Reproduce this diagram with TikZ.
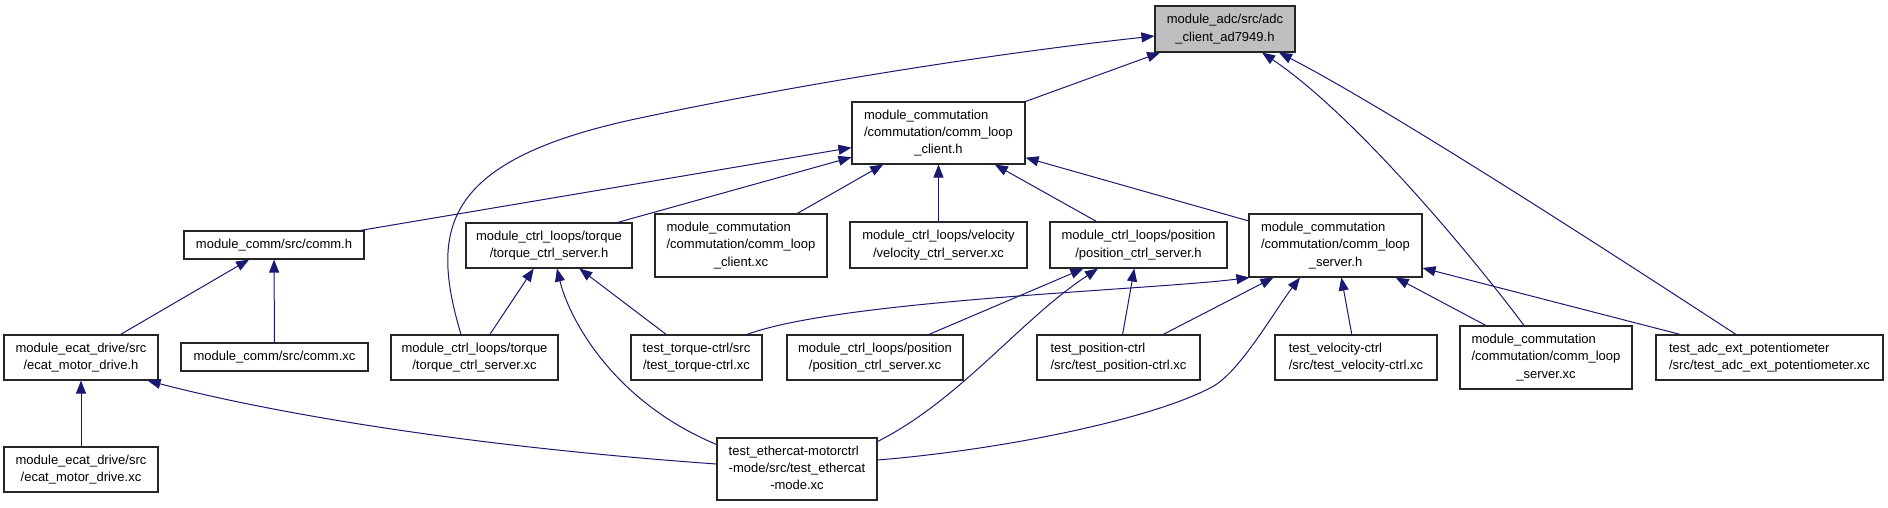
\documentclass[tikz,border=0pt]{standalone}
\usepackage{fontspec}
\setmainfont{Liberation Sans}
\usetikzlibrary{arrows.meta,calc}
\definecolor{edgeblue}{RGB}{25,25,112}
\newcommand{\lbl}[2]{\begin{tabular}{@{}l@{}}#1\\\multicolumn{1}{@{}c@{}}{#2}\end{tabular}}
\begin{document}
\begin{tikzpicture}[x=1pt,y=-1pt,box/.style={draw=black!85,line width=1.1pt,fill=white,inner sep=0pt,font=\fontsize{13}{17.3}\selectfont},arr/.style={-{Triangle[length=13pt,width=10pt]},draw=edgeblue,line width=1pt}]
\useasboundingbox (0,0) rectangle (1888,507);
\node[box,fill=black!25,minimum width=140pt,minimum height=46pt] (root) at (1225,29) {\lbl{module\_adc/src/adc}{\_client\_ad7949.h}};
\node[box,minimum width=173pt,minimum height=62pt] (clh) at (938.5,133) {\lbl{module\_commutation\\/commutation/comm\_loop}{\_client.h}};
\node[box,minimum width=180pt,minimum height=28pt] (commh) at (274,245) {module\_comm/src/comm.h};
\node[box,minimum width=166pt,minimum height=45pt] (torqueh) at (549,245.5) {\lbl{module\_ctrl\_loops/torque}{/torque\_ctrl\_server.h}};
\node[box,minimum width=172pt,minimum height=63pt] (clxc) at (741,245.5) {\lbl{module\_commutation\\/commutation/comm\_loop}{\_client.xc}};
\node[box,minimum width=177pt,minimum height=46pt] (velxc) at (938.5,245) {\lbl{module\_ctrl\_loops/velocity}{/velocity\_ctrl\_server.xc}};
\node[box,minimum width=177pt,minimum height=46pt] (posh) at (1138.5,245) {\lbl{module\_ctrl\_loops/position}{/position\_ctrl\_server.h}};
\node[box,minimum width=173pt,minimum height=63pt] (svh) at (1335.5,245.5) {\lbl{module\_commutation\\/commutation/comm\_loop}{\_server.h}};
\node[box,minimum width=154pt,minimum height=45pt] (ecath) at (81,357.5) {\lbl{module\_ecat\_drive/src}{/ecat\_motor\_drive.h}};
\node[box,minimum width=187pt,minimum height=28pt] (commxc) at (274.5,357) {module\_comm/src/comm.xc};
\node[box,minimum width=167pt,minimum height=45pt] (torquexc) at (474.5,357.5) {\lbl{module\_ctrl\_loops/torque}{/torque\_ctrl\_server.xc}};
\node[box,minimum width=131pt,minimum height=45pt] (ttorquexc) at (696.5,357.5) {\lbl{test\_torque-ctrl/src}{/test\_torque-ctrl.xc}};
\node[box,minimum width=176pt,minimum height=45pt] (posxc) at (875,357.5) {\lbl{module\_ctrl\_loops/position}{/position\_ctrl\_server.xc}};
\node[box,minimum width=163pt,minimum height=45pt] (tposxc) at (1118.5,357.5) {\lbl{test\_position-ctrl}{/src/test\_position-ctrl.xc}};
\node[box,minimum width=162pt,minimum height=45pt] (tvelxc) at (1356,357.5) {\lbl{test\_velocity-ctrl}{/src/test\_velocity-ctrl.xc}};
\node[box,minimum width=172pt,minimum height=63pt] (svxc) at (1546,357.5) {\lbl{module\_commutation\\/commutation/comm\_loop}{\_server.xc}};
\node[box,minimum width=227pt,minimum height=45pt] (potxc) at (1769.5,357.5) {\lbl{test\_adc\_ext\_potentiometer}{/src/test\_adc\_ext\_potentiometer.xc}};
\node[box,minimum width=154pt,minimum height=45pt] (ecatxc) at (81,469.5) {\lbl{module\_ecat\_drive/src}{/ecat\_motor\_drive.xc}};
\node[box,minimum width=160pt,minimum height=62pt] (ethxc) at (797,469) {\lbl{test\_ethercat-motorctrl\\-mode/src/test\_ethercat}{-mode.xc}};
\draw[arr](clh)--(root);
\draw[arr]($(torquexc.north)+(-13.5,0)$) .. controls (430,230) and (440,160) .. (640,118) .. controls (800,84) and (990,54) .. ($(root.west)+(0,7)$);
\draw[arr]($(svxc.north)+(-22,0)$) .. controls (1472,256) and (1355,115) .. ($(root.south)+(37,0)$);
\draw[arr]($(potxc.north)+(-33.5,0)$) .. controls (1660,285) and (1400,115) .. ($(root.south)+(54,0)$);
\draw[arr](commh)--(clh);\draw[arr]($(torqueh.north east)+(-15,0)$)--(clh);\draw[arr](clxc)--(clh);\draw[arr](velxc)--(clh);\draw[arr](posh)--(clh);\draw[arr](svh)--(clh);
\draw[arr](ecath)--(commh);\draw[arr](commxc)--(commh);\draw[arr](ecatxc)--(ecath);
\draw[arr]($(ethxc.west)+(0,-5)$) .. controls (450,445) and (260,410) .. ($(ecath.south east)+(-11,0)$);
\draw[arr](torquexc)--(torqueh);\draw[arr](ttorquexc)--(torqueh);
\draw[arr]($(ethxc.north west)+(0,7)$) .. controls (610,400) and (568,315) .. ($(torqueh.south)+(8,0)$);
\draw[arr](posxc)--(posh);\draw[arr](tposxc)--(posh);
\draw[arr]($(ethxc.north east)+(0,4)$) .. controls (960,400) and (1020,320) .. ($(posh.south)+(-40.5,0)$);
\draw[arr]($(ttorquexc.north)+(50.5,0)$) .. controls (840,300) and (1150,290) .. ($(svh.south west)+(1,0)$);
\draw[arr]($(ethxc.east)+(0,-9)$) .. controls (1000,450) and (1150,420) .. (1212,387) .. controls (1240,372) and (1275,310) .. ($(svh.south)+(-35.5,0)$);
\draw[arr](tposxc)--(svh);\draw[arr](tvelxc)--(svh);\draw[arr](svxc)--(svh);\draw[arr](potxc)--(svh);
\end{tikzpicture}
\end{document}
